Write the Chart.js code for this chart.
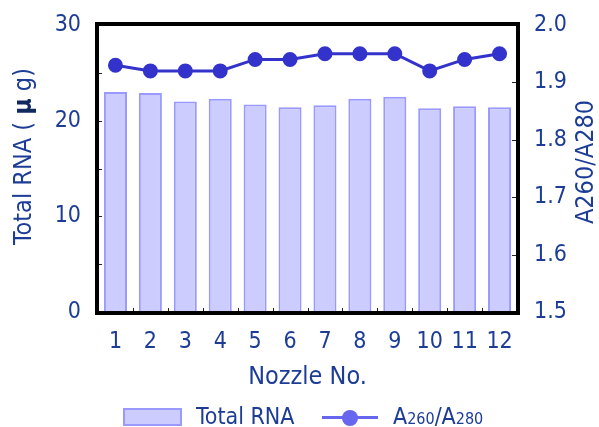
<!DOCTYPE html>
<html>
<head>
<meta charset="utf-8">
<script src="https://cdn.jsdelivr.net/npm/chart.js@4.4.1/dist/chart.umd.min.js"></script>
<style>
  html,body{margin:0;padding:0;background:#fff;}
  #wrap{position:relative;width:599px;height:427px;}
  #chart{position:absolute;left:0;top:0;}
  .lg{position:absolute;font-family:"DejaVu Sans Condensed",sans-serif;font-size:23px;color:#1c3c96;line-height:24px;}
  .sub{font-size:16px;}
</style>
</head>
<body>
<div id="wrap">
  <canvas id="chart" width="599" height="427"></canvas>
  <div class="lg" style="left:123px;top:408px;background:#ccccff;border:2px solid #9999ff;box-sizing:border-box;width:59px;height:18px;"></div>
  <div class="lg" style="left:196px;top:404px;">Total RNA</div>
  <div class="lg" style="left:322px;top:416px;width:56px;height:3px;background:#6666ee;"></div>
  <div class="lg" style="left:342px;top:410px;width:16px;height:16px;border-radius:50%;background:#6666ee;"></div>
  <div class="lg" style="left:393px;top:404px;">A<span class="sub">260</span>/A<span class="sub">280</span></div>
</div>
<script>
/* data */
const nozzles = ["1","2","3","4","5","6","7","8","9","10","11","12"];
const totalRNA = [23.0, 22.9, 22.0, 22.3, 21.7, 21.4, 21.6, 22.3, 22.5, 21.3, 21.5, 21.4];
const ratio = [1.93, 1.92, 1.92, 1.92, 1.94, 1.94, 1.95, 1.95, 1.95, 1.92, 1.94, 1.95];

const FONT = "'DejaVu Sans Condensed',sans-serif";
const TXT = "#1c3c96";

/* draws rotated (bottom-to-top) text made of styled parts */
function vText(ctx, cx, cy, parts, size){
  ctx.save();
  ctx.translate(cx, cy);
  ctx.rotate(-Math.PI/2);
  ctx.textBaseline = "middle";
  let w = 0;
  parts.forEach(p=>{ ctx.font = `${p[1]} ${size}px ${FONT}`; w += ctx.measureText(p[0]).width; });
  let x = -w/2;
  parts.forEach(p=>{
    ctx.font = `${p[1]} ${size}px ${FONT}`;
    ctx.fillStyle = p[2];
    ctx.fillText(p[0], x, 0);
    x += ctx.measureText(p[0]).width;
  });
  ctx.restore();
}

/* frame + inward ticks + axis titles */
const frame = {
  id: "frame",
  afterDatasetsDraw(c){
    const {ctx, chartArea:a, scales} = c;
    ctx.save();
    ctx.strokeStyle = "#222";
    ctx.lineWidth = 1;
    ctx.beginPath();
    scales.y.ticks.forEach(t=>{
      const py = Math.round(scales.y.getPixelForValue(t.value))+0.5;
      ctx.moveTo(a.left, py); ctx.lineTo(a.left+4, py);
    });
    scales.y1.ticks.forEach(t=>{
      const py = Math.round(scales.y1.getPixelForValue(t.value))+0.5;
      ctx.moveTo(a.right, py); ctx.lineTo(a.right-5, py);
    });
    for(let i=1;i<nozzles.length;i++){
      const px = Math.round((scales.x.getPixelForTick(i-1)+scales.x.getPixelForTick(i))/2)+0.5;
      ctx.moveTo(px, a.bottom); ctx.lineTo(px, a.bottom-4);
    }
    ctx.stroke();
    ctx.lineWidth = 4;
    ctx.strokeStyle = "#000";
    ctx.strokeRect(a.left-1, a.top-1, a.right-a.left+2, a.bottom-a.top+2);
    ctx.restore();

    vText(ctx, 24, (a.top+a.bottom)/2 - 12,
      [["Total RNA ( ", "normal", TXT], ["μ", "bold", "#102a60"], [" g)", "normal", TXT]], 25);
    vText(ctx, 586, 162, [["A260/A280", "normal", TXT]], 25);
  }
};

new Chart(document.getElementById("chart"), {
  data:{
    labels: nozzles,
    datasets:[
      {
        type:"line",
        label:"A260/A280",
        data: ratio,
        yAxisID:"y1",
        borderColor:"#3333cc",
        backgroundColor:"#3333cc",
        borderWidth:3,
        pointRadius:6,
        pointHoverRadius:6,
        order:0
      },
      {
        type:"bar",
        label:"Total RNA",
        data: totalRNA,
        yAxisID:"y",
        backgroundColor:"#ccccff",
        borderColor:"#9999ff",
        borderWidth:2,
        barPercentage:0.66,
        categoryPercentage:1,
        order:1
      }
    ]
  },
  options:{
    responsive:false,
    animation:false,
    layout:{padding:{top:25, bottom:35, left:0, right:0}},
    plugins:{legend:{display:false}, tooltip:{enabled:false}},
    scales:{
      x:{
        grid:{display:false},
        border:{display:false},
        ticks:{color:TXT, font:{family:FONT, size:23}, padding:8, maxRotation:0, autoSkip:false},
        title:{display:true, text:"Nozzle No.", color:TXT, font:{family:FONT, size:25}, padding:0},
        afterFit(s){ s.height = 80; }
      },
      y:{
        position:"left",
        min:0, max:30,
        grid:{display:false},
        border:{display:false},
        ticks:{stepSize:5, color:TXT, font:{family:FONT, size:23}, padding:9,
          callback:v=> v%10===0 ? v : ""},
        afterFit(s){ s.width = 98; }
      },
      y1:{
        position:"right",
        min:1.5, max:2.0,
        grid:{display:false},
        border:{display:false},
        ticks:{stepSize:0.1, color:TXT, font:{family:FONT, size:23}, padding:9,
          callback:v=> v.toFixed(1)},
        afterFit(s){ s.width = 82; }
      }
    }
  },
  plugins:[frame]
});
</script>
</body>
</html>
